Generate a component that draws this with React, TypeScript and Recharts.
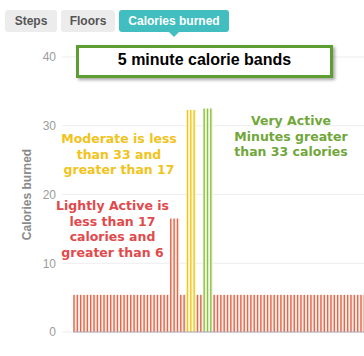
import React from 'react'
import { BarChart, Bar, XAxis, YAxis, CartesianGrid, ReferenceLine } from 'recharts'

// calories burned per 5 minute band
const calories = [
  5.4, 5.4, 5.4, 5.4, 5.4, 5.4, 5.4, 5.4, 5.4, 5.4,
  5.4, 5.4, 5.4, 5.4, 5.4, 5.4, 5.4, 5.4, 5.4, 5.4,
  5.4, 5.4, 5.4, 5.4, 5.4, 5.4, 5.4, 5.4, 5.4, 16.5,
  16.5, 16.5, 5.4, 5.4, 32.3, 32.3, 32.3, 5.4, 5.4, 32.5,
  32.5, 32.5, 5.4, 5.4, 5.4, 5.4, 5.4, 5.4, 5.4, 5.4,
  5.4, 5.4, 5.4, 5.4, 5.4, 5.4, 5.4, 5.4, 5.4, 5.4,
  5.4, 5.4, 5.4, 5.4, 5.4, 5.4, 5.4, 5.4, 5.4, 5.4,
  5.4, 5.4, 5.4, 5.4, 5.4, 5.4, 5.4, 5.4, 5.4, 5.4,
  5.4, 5.4, 5.4, 5.4, 5.4, 5.4, 5.4, 5.4, 5.4,
]
const moderateBands = [34, 35, 36]
const veryActiveBands = [39, 40, 41]
const yTicks = [0, 10, 20, 30, 40]
const tabs = ['Steps', 'Floors', 'Calories burned']
const title = '5 minute calorie bands'
const lightNote = ['Lightly Active is', 'less than 17', 'calories and', 'greater than 6']
const moderateNote = ['Moderate is less', 'than 33 and', 'greater than 17']
const veryActiveNote = ['Very Active', 'Minutes greater', 'than 33 calories']

const ZONES: Record<string, { line: string; fill: string }> = {
  light: { line: '#e2674e', fill: '#fceae1' },
  moderate: { line: '#f0c81c', fill: '#fdf6d8' },
  veryActive: { line: '#8dc23f', fill: '#eff7e2' },
}

const zoneOf = (i: number) =>
  moderateBands.includes(i) ? 'moderate' : veryActiveBands.includes(i) ? 'veryActive' : 'light'

const data = calories.map((c, i) => ({ band: i, calories: c, zone: zoneOf(i) }))

function BandShape(props: any) {
  const { x, y, width, height, payload } = props
  if (!height || height <= 0) return null
  const z = ZONES[payload.zone]
  return (
    <g>
      <rect x={x} y={y} width={width} height={height} fill={z.fill} />
      <rect x={x + 0.3} y={y} width={1.4} height={height} fill={z.line} />
    </g>
  )
}

const tabWidths = [52, 54, 110]

function Note({ lines, color, center, top }: { lines: string[]; color: string; center: number; top: number }) {
  return (
    <div
      style={{
        position: 'absolute',
        left: center - 75,
        top,
        width: 150,
        textAlign: 'center',
        color,
        fontFamily: '"DejaVu Sans", Verdana, sans-serif',
        fontWeight: 'bold',
        fontSize: 12.5,
        lineHeight: '15.6px',
        whiteSpace: 'nowrap',
      }}
    >
      {lines.map((l) => (
        <div key={l}>{l}</div>
      ))}
    </div>
  )
}

export default function App() {
  return (
    <div
      style={{
        position: 'absolute',
        left: 0,
        top: 0,
        width: 364,
        height: 356,
        overflow: 'hidden',
        background: '#fff',
      }}
    >
      <BarChart
        width={370}
        height={356}
        data={data}
        margin={{ top: 57, right: 0, bottom: 22, left: 0 }}
        barCategoryGap={0}
        barGap={0}
      >
        <CartesianGrid vertical={false} stroke="#ededed" />
        <XAxis
          dataKey="band"
          height={2}
          tick={false}
          tickLine={false}
          axisLine={false}
          padding={{ left: 11, right: 0 }}
        />
        <YAxis
          domain={[0, 40]}
          ticks={yTicks}
          width={62}
          tickLine={false}
          axisLine={false}
          tickMargin={0}
          tick={{ fill: '#9c9c9c', fontSize: 12, fontFamily: '"Liberation Sans", Arial, sans-serif' }}
          label={{
            value: 'Calories burned',
            angle: -90,
            position: 'insideLeft',
            offset: 26.5,
            fontSize: 12,
            fontWeight: 'bold',
            fill: '#8a8a8a',
            fontFamily: '"Liberation Sans", Arial, sans-serif',
            style: { textAnchor: 'middle' },
          }}
        />
        <Bar dataKey="calories" shape={<BandShape />} isAnimationActive={false} />
        <ReferenceLine
          segment={[
            { x: data[0].band, y: 0 },
            { x: data[data.length - 1].band, y: 0 },
          ]}
          position="start"
          stroke="#a9a6b6"
          ifOverflow="visible"
        />
      </BarChart>

      {/* tabs */}
      <div style={{ position: 'absolute', left: 5, top: 10, display: 'flex', gap: 4 }}>
        {tabs.map((t, i) => {
          const active = i === tabs.length - 1
          return (
            <div
              key={t}
              style={{
                position: 'relative',
                width: tabWidths[i],
                height: 22,
                lineHeight: '22px',
                textAlign: 'center',
                borderRadius: 3,
                background: active ? '#43bec0' : '#ececec',
                color: active ? '#fff' : '#555',
                fontFamily: '"Liberation Sans", Arial, sans-serif',
                fontWeight: 'bold',
                fontSize: 12,
              }}
            >
              {t}
              {active && (
                <div
                  style={{
                    position: 'absolute',
                    left: tabWidths[i] / 2 - 5,
                    top: 22,
                    width: 0,
                    height: 0,
                    borderLeft: '5px solid transparent',
                    borderRight: '5px solid transparent',
                    borderTop: '5px solid #43bec0',
                  }}
                />
              )}
            </div>
          )
        })}
      </div>

      {/* title box */}
      <div
        style={{
          position: 'absolute',
          left: 76,
          top: 45,
          width: 257,
          height: 33,
          boxSizing: 'border-box',
          border: '3px solid #5c9e31',
          background: '#fff',
          boxShadow: '2px 2px 3px rgba(0,0,0,0.35)',
          textAlign: 'center',
          fontFamily: '"Liberation Sans", Arial, sans-serif',
          fontWeight: 'bold',
          fontSize: 16,
          lineHeight: '24px',
          color: '#000',
        }}
      >
        {title}
      </div>

      <Note lines={moderateNote} color="#f2c31b" center={119} top={131} />
      <Note lines={lightNote} color="#e14a4c" center={112.5} top={198} />
      <Note lines={veryActiveNote} color="#71a73a" center={291} top={113} />
    </div>
  )
}
